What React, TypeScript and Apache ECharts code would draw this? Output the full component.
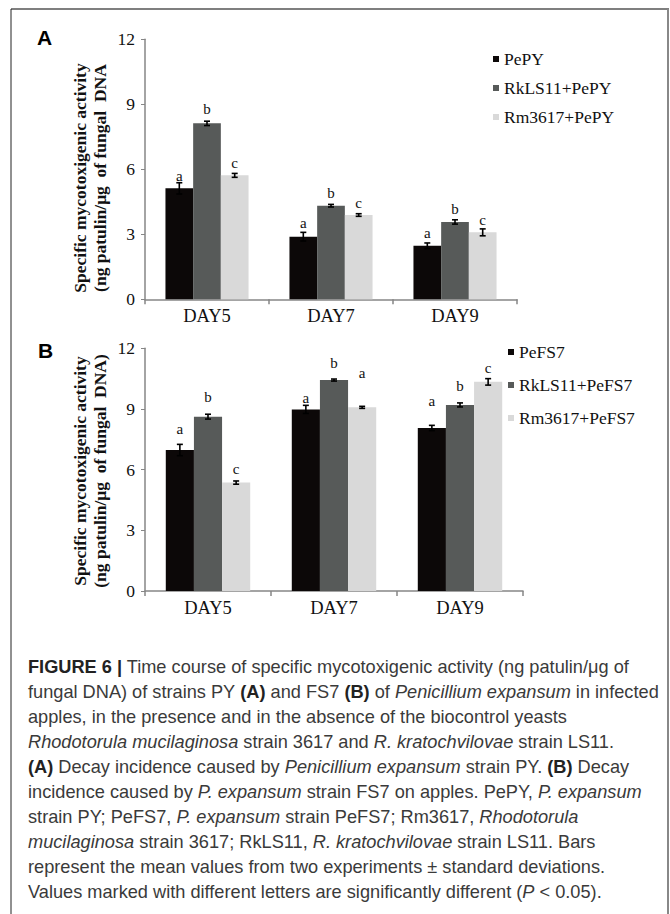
import React, { useEffect, useRef } from "react";
import * as echarts from "echarts";

const days = ["DAY5", "DAY7", "DAY9"];

// Panel A
const namesA = ["PePY", "RkLS11+PePY", "Rm3617+PePY"];
const pepy = [5.12, 2.89, 2.47];
const pepyErr = [0.26, 0.2, 0.13];
const rkPepy = [8.12, 4.32, 3.57];
const rkPepyErr = [0.1, 0.06, 0.1];
const rmPepy = [5.72, 3.89, 3.09];
const rmPepyErr = [0.09, 0.06, 0.16];
const lettersA = [["a", "a", "a"], ["b", "b", "b"], ["c", "c", "c"]];
const letterPosA = [[5.69, 3.51, 3.07], [8.78, 4.92, 4.15], [6.29, 4.46, 3.66]];

// Panel B
const namesB = ["PeFS7", "RkLS11+PeFS7", "Rm3617+PeFS7"];
const pefs7 = [6.97, 8.98, 8.06];
const pefs7Err = [0.28, 0.2, 0.13];
const rkPefs7 = [8.62, 10.43, 9.2];
const rkPefs7Err = [0.12, 0.05, 0.1];
const rmPefs7 = [5.36, 9.08, 10.34];
const rmPefs7Err = [0.08, 0.05, 0.16];
const lettersB = [["a", "a", "a"], ["b", "b", "b"], ["c", "a", "c"]];
const letterPosB = [[8.01, 9.55, 9.4], [9.61, 11.28, 10.14], [6.03, 10.8, 11.03]];

const yMin = 0;
const yMax = 12;
const yInterval = 3;

const colors = ["#0c0808", "#575a59", "#d9d9d9"];
const serif = "'Liberation Serif', 'Times New Roman', serif";
const sans = "'Liberation Sans', Arial, sans-serif";
const catGap = 0.33;

const captionLines = [
  "{b|FIGURE 6 |} Time course of specific mycotoxigenic activity (ng patulin/μg of",
  "fungal DNA) of strains PY {b|(A)} and FS7 {b|(B)} of {i|Penicillium expansum} in infected",
  "apples, in the presence and in the absence of the biocontrol yeasts",
  "{i|Rhodotorula mucilaginosa} strain 3617 and {i|R. kratochvilovae} strain LS11.",
  "{b|(A)} Decay incidence caused by {i|Penicillium expansum} strain PY. {b|(B)} Decay",
  "incidence caused by {i|P. expansum} strain FS7 on apples. PePY, {i|P. expansum}",
  "strain PY; PeFS7, {i|P. expansum} strain PeFS7; Rm3617, {i|Rhodotorula}",
  "{i|mucilaginosa} strain 3617; RkLS11, {i|R. kratochvilovae} strain LS11. Bars",
  "represent the mean values from two experiments ± standard deviations.",
  "Values marked with different letters are significantly different ({i|P} < 0.05).",
];

function buildPanel(
  gi: number,
  names: string[],
  vals: number[][],
  errs: number[][],
  letters: string[][],
  letterPos: number[][]
) {
  const series: any[] = [];
  vals.forEach((v, k) => {
    series.push({
      type: "bar",
      name: names[k],
      xAxisIndex: gi,
      yAxisIndex: gi,
      data: v,
      barGap: "0%",
      barCategoryGap: catGap * 100 + "%",
      itemStyle: { color: colors[k] },
      z: 2,
    });
  });
  vals.forEach((v, k) => {
    series.push({
      type: "custom",
      xAxisIndex: gi,
      yAxisIndex: gi,
      z: 5,
      silent: true,
      data: v.map((val, i) => [i, val]),
      encode: { x: 0, y: 1 },
      renderItem: (params: any, api: any) => {
        const i = api.value(0);
        const val = api.value(1);
        const e = errs[k][params.dataIndex];
        const band = api.size([1, 0])[0];
        const bw = (band * (1 - catGap)) / 3;
        const c = api.coord([i, val]);
        const x = c[0] + (k - 1) * bw;
        const yT = api.coord([i, val + e])[1];
        const yB = api.coord([i, val - e])[1];
        const w = 3;
        const st = { stroke: "#000", lineWidth: 1.6 };
        return {
          type: "group",
          children: [
            { type: "line", shape: { x1: x, y1: yT, x2: x, y2: yB }, style: st },
            { type: "line", shape: { x1: x - w, y1: yT, x2: x + w, y2: yT }, style: st },
            { type: "line", shape: { x1: x - w, y1: yB, x2: x + w, y2: yB }, style: st },
          ],
        };
      },
    });
    series.push({
      type: "custom",
      xAxisIndex: gi,
      yAxisIndex: gi,
      z: 6,
      silent: true,
      data: letterPos[k].map((p, i) => [i, p]),
      encode: { x: 0, y: 1 },
      renderItem: (params: any, api: any) => {
        const i = api.value(0);
        const p = api.value(1);
        const band = api.size([1, 0])[0];
        const bw = (band * (1 - catGap)) / 3;
        const c = api.coord([i, p]);
        return {
          type: "text",
          x: c[0] + (k - 1) * bw,
          y: c[1],
          style: {
            text: letters[k][params.dataIndex],
            align: "center",
            verticalAlign: "middle",
            fontFamily: serif,
            fontSize: 15,
            fill: "#111",
          },
        };
      },
    });
  });
  return series;
}

export default function App() {
  const ref = useRef<HTMLDivElement>(null);
  useEffect(() => {
    document.body.style.margin = "0";
    if (!ref.current) return;
    const chart = echarts.init(ref.current, undefined, { renderer: "svg" });

    const axisLine = { lineStyle: { color: "#868686", width: 1.5 } };
    const xAxisBase = (gi: number) => ({
      type: "category",
      gridIndex: gi,
      data: days,
      axisLine,
      axisTick: { show: true, length: 5, lineStyle: { color: "#868686", width: 1.5 } },
      axisLabel: { fontFamily: serif, fontSize: 18.5, color: "#111", margin: 7 },
    });
    const yAxisBase = (gi: number) => ({
      type: "value",
      gridIndex: gi,
      min: yMin,
      max: yMax,
      interval: yInterval,
      splitLine: { show: false },
      axisLine: { show: true, ...axisLine },
      axisTick: { show: true, length: 4, lineStyle: { color: "#868686", width: 1 } },
      axisLabel: { fontFamily: serif, fontSize: 17.5, color: "#111", margin: 10 },
    });

    const legendBase = {
      orient: "vertical",
      icon: "rect",
      itemWidth: 6,
      itemHeight: 6,
      padding: 0,
      selectedMode: false,
      textStyle: { fontFamily: serif, fontSize: 17.5, color: "#111", lineHeight: 18 },
    };

    const yTitle = (cy: number, second: string) => ({
      type: "text",
      x: 90,
      y: cy,
      rotation: Math.PI / 2,
      style: {
        text: "Specific mycotoxigenic activity\n" + second,
        align: "center",
        verticalAlign: "middle",
        fontFamily: serif,
        fontWeight: "bold",
        fontSize: 17.5,
        lineHeight: 20,
        fill: "#111",
      },
    });

    const option: any = {
      animation: false,
      grid: [
        { left: 145, top: 39.3, width: 372, height: 260 },
        { left: 145, top: 348.3, width: 378, height: 242.7 },
      ],
      xAxis: [xAxisBase(0), xAxisBase(1)],
      yAxis: [yAxisBase(0), yAxisBase(1)],
      legend: [
        { ...legendBase, data: namesA, left: 493, top: 50, itemGap: 11 },
        { ...legendBase, data: namesB, left: 508, top: 343, itemGap: 15 },
      ],
      series: [
        ...buildPanel(0, namesA, [pepy, rkPepy, rmPepy], [pepyErr, rkPepyErr, rmPepyErr], lettersA, letterPosA),
        ...buildPanel(1, namesB, [pefs7, rkPefs7, rmPefs7], [pefs7Err, rkPefs7Err, rmPefs7Err], lettersB, letterPosB),
      ],
      graphic: [
        { type: "line", shape: { x1: 11, y1: 9, x2: 669, y2: 9 }, style: { stroke: "#555", lineWidth: 1.5 } },
        { type: "line", shape: { x1: 11, y1: 9, x2: 11, y2: 914 }, style: { stroke: "#222", lineWidth: 1 } },
        { type: "line", shape: { x1: 668, y1: 9, x2: 668, y2: 914 }, style: { stroke: "#888", lineWidth: 2 } },
        {
          type: "text",
          x: 37,
          y: 37.5,
          style: { text: "A", fontFamily: sans, fontWeight: "bold", fontSize: 21, fill: "#000", verticalAlign: "middle" },
        },
        {
          type: "text",
          x: 38,
          y: 350,
          style: { text: "B", fontFamily: sans, fontWeight: "bold", fontSize: 21, fill: "#000", verticalAlign: "middle" },
        },
        yTitle(178, "(ng patulin/μg  of fungal  DNA"),
        yTitle(471, "(ng patulin/μg  of fungal  DNA)"),
        {
          type: "text",
          x: 28,
          y: 654,
          style: {
            text: captionLines.join("\n"),
            fontFamily: sans,
            fontSize: 18.2,
            lineHeight: 25,
            fill: "#3a3a3a",
            verticalAlign: "top",
            rich: {
              b: { fontFamily: sans, fontSize: 18.2, lineHeight: 25, fontWeight: "bold", fill: "#222" },
              i: { fontFamily: sans, fontSize: 18.2, lineHeight: 25, fontStyle: "italic", fill: "#3a3a3a" },
            },
          },
        },
      ],
    };
    chart.setOption(option);
    return () => chart.dispose();
  }, []);
  return <div ref={ref} style={{ width: 670, height: 914 }} />;
}
